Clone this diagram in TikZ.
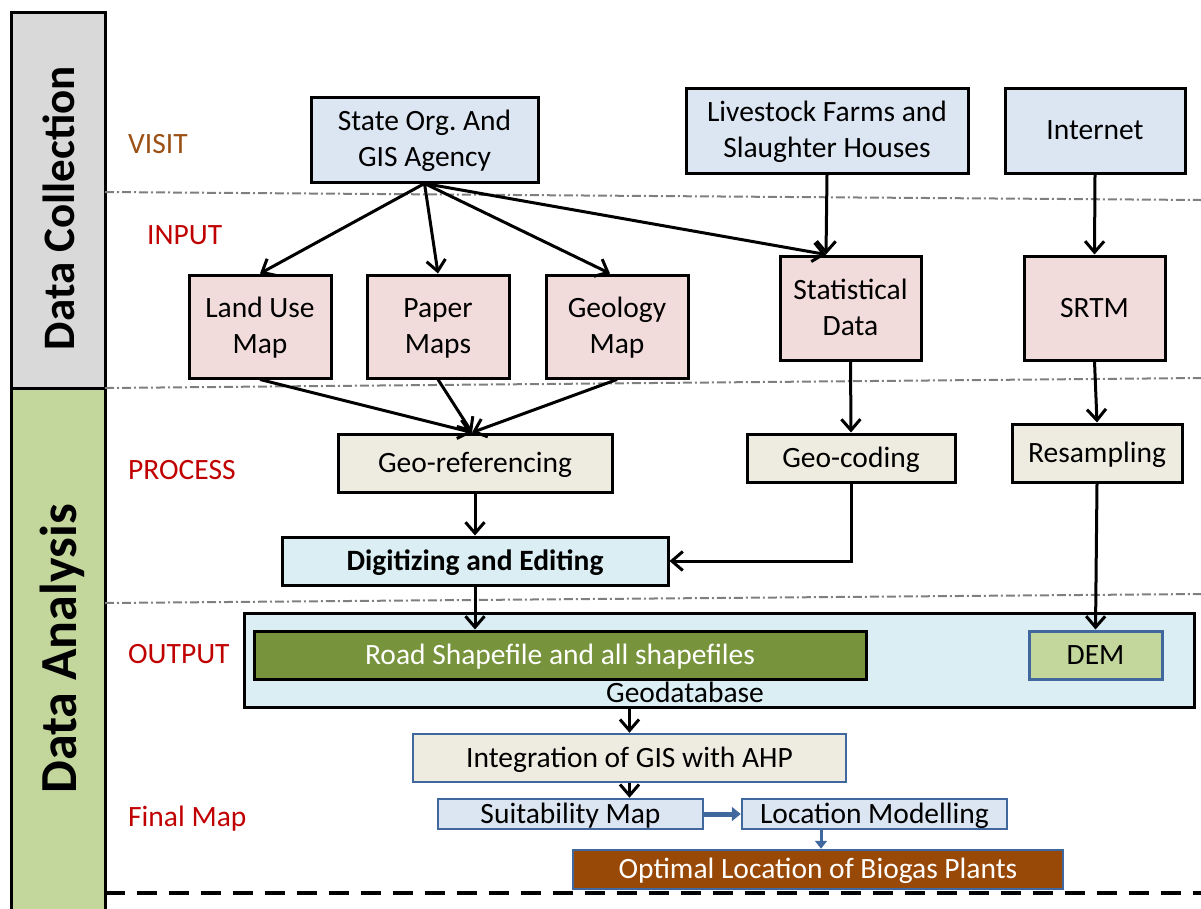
\documentclass[tikz,border=0pt]{standalone}
\usepackage{fontspec}
\setmainfont{Carlito}
\frenchspacing
\usetikzlibrary{arrows.meta}
\definecolor{cgray}{HTML}{D9D9D9}
\definecolor{cgreen}{HTML}{C3D69B}
\definecolor{cbrown}{HTML}{9B5014}
\definecolor{cred}{HTML}{C00000}
\definecolor{cblue}{HTML}{DCE6F2}
\definecolor{cpink}{HTML}{F2DCDB}
\definecolor{cbeige}{HTML}{EEECE1}
\definecolor{caqua}{HTML}{DAEEF3}
\definecolor{colive}{HTML}{77933C}
\definecolor{cborder}{HTML}{41689E}
\definecolor{cbrownbox}{HTML}{984807}
\definecolor{csep}{HTML}{7F7F7F}
\begin{document}
\begin{tikzpicture}[x=1pt,y=-1pt,
  txt/.style={font=\fontsize{29.5}{36}\selectfont},
  box/.style={txt, draw=black, line width=3pt, inner sep=0pt, align=center, text height=18pt, text depth=-1pt},
  two/.style={text height=54pt, text depth=-1pt},
  bbox/.style={box, draw=cborder, line width=2.5pt},
  bar/.style={draw=black, line width=3pt, inner sep=0pt},
  lab/.style={txt, anchor=base west, text=cred, inner sep=0pt},
  sep/.style={draw=csep, line width=2pt, dash pattern=on 9pt off 3pt on 2pt off 3pt},
  arr/.style={draw=black, line width=3pt, -{Straight Barb[length=11pt,width=19pt]}},
  barr/.style={draw=cborder, line width=3pt, -{Triangle[length=8pt,width=12pt]}}
]
\useasboundingbox (0,0) rectangle (1201,908);
% side bars
\node[bar, fill=cgray, minimum width=94pt, minimum height=376pt] (bar1) at (58,200) {};
\node[bar, fill=cgreen, minimum width=94pt, minimum height=532pt] (bar2) at (58,654) {};
\node[rotate=90, anchor=base, font=\bfseries\fontsize{45}{54}\selectfont] (t1) at (74,208) {Data Collection};
\node[rotate=90, anchor=base, font=\bfseries\fontsize{52}{60}\selectfont] (t2) at (76.5,649) {Data Analysis};
% separators
\coordinate (s1a) at (105,192); \coordinate (s1b) at (1201,200);
\coordinate (s2a) at (105,388); \coordinate (s2b) at (1201,378);
\coordinate (s3a) at (105,603); \coordinate (s3b) at (1201,594);
\coordinate (s4a) at (105,893); \coordinate (s4b) at (1201,893);
\draw[sep] (s1a) -- (s1b);
\draw[sep] (s2a) -- (s2b);
\draw[sep] (s3a) -- (s3b);
\draw[draw=black, line width=4pt, dash pattern=on 20pt off 12pt] (s4a) -- (s4b);
% row labels
\node[lab, text=cbrown] (visit) at (128,153) {VISIT};
\node[lab] (input) at (147,244) {INPUT};
\node[lab] (process) at (128,479) {PROCESS};
\node[lab] (output) at (128,663) {OUTPUT};
\node[lab] (final) at (128,826) {Final Map};
% top row
\node[box, two, fill=cblue, minimum width=227pt, minimum height=85pt] (so) at (424.5,139.5) {State Org. And\\GIS Agency};
\node[box, two, fill=cblue, minimum width=282pt, minimum height=85pt] (lf) at (827,130.5) {Livestock Farms and\\Slaughter Houses};
\node[box, fill=cblue, minimum width=180pt, minimum height=85pt] (inet) at (1095,130.5) {Internet};
% input row
\node[box, two, fill=cpink, minimum width=142pt, minimum height=103pt] (lu) at (260,326.5) {Land Use\\Map};
\node[box, two, fill=cpink, minimum width=142pt, minimum height=103pt] (pm) at (438,326.5) {Paper\\Maps};
\node[box, two, fill=cpink, minimum width=142pt, minimum height=103pt] (gm) at (617,326.5) {Geology\\Map};
\node[box, two, fill=cpink, minimum width=141pt, minimum height=104pt] (sd) at (850.5,308) {Statistical\\Data};
\node[box, fill=cpink, minimum width=141pt, minimum height=104pt] (srtm) at (1094.5,308) {SRTM};
% process row
\node[box, fill=cbeige, minimum width=274pt, minimum height=58pt] (gr) at (475,463) {Geo-referencing};
\node[box, fill=cbeige, minimum width=208pt, minimum height=48pt] (gc) at (851,458) {Geo-coding};
\node[box, fill=cbeige, minimum width=170pt, minimum height=58pt] (rs) at (1097,453) {Resampling};
\node[box, fill=caqua, font=\bfseries\fontsize{29.5}{36}\selectfont, minimum width=386pt, minimum height=48pt] (de) at (475,561) {Digitizing and Editing};
% output
\node[box, fill=caqua, minimum width=950pt, minimum height=94pt] (gdb) at (719,660) {};
\node[box, fill=colive, text=white, minimum width=612pt, minimum height=48pt] (road) at (560,655) {Road Shapefile and all shapefiles};
\node[bbox, fill=cgreen, line width=3pt, minimum width=133pt, minimum height=48pt] (dem) at (1095.5,655) {DEM};
\node[txt, anchor=base, inner sep=0pt] (gdbl) at (685,702) {Geodatabase};
% final
\node[bbox, fill=cbeige, minimum width=433pt, minimum height=48pt] (integ) at (629.5,758) {Integration of GIS with AHP};
\node[bbox, fill=cblue, minimum width=265pt, minimum height=30pt] (suit) at (570.5,814) {Suitability Map};
\node[bbox, fill=cblue, minimum width=265pt, minimum height=30pt] (loc) at (874.5,814) {Location Modelling};
\node[bbox, fill=cbrownbox, text=white, minimum width=490pt, minimum height=39pt] (opt) at (818,869.5) {Optimal Location of Biogas Plants};
% arrows
\coordinate (sdin) at ([xshift=-24.5pt]sd.north);
\draw[arr] (so.south) -- (lu.north);
\draw[arr] (so.south) -- (pm.north);
\draw[arr] (so.south) -- ([xshift=-7pt]gm.north);
\draw[arr] (so.south) -- (sdin);
\draw[arr] (lf.south) -- (sdin);
\draw[arr] (inet.south) -- (srtm.north);
\coordinate (grin) at ([xshift=-3pt]gr.north);
\draw[arr] (lu.south) -- (grin);
\draw[arr] (pm.south) -- (grin);
\draw[arr] (gm.south) -- (grin);
\draw[arr] (gr.south) -- (de.north);
\draw[arr] (sd.south) -- (gc.north);
\draw[arr] (gc.south) |- (de.east);
\draw[arr] (srtm.south) -- (rs.north);
\draw[arr] (rs.south) -- (dem.north);
\draw[arr] (de.south) -- (de.south |- road.north);
\draw[arr] (integ.north |- gdb.south) -- (integ.north);
\draw[arr] (integ.south) -- (integ.south |- suit.north);
\draw[barr, line width=5pt, -{Triangle[length=9pt,width=14pt]}] (suit.east) -- (loc.west);
\coordinate (locout) at ([xshift=-53.5pt]loc.south);
\draw[barr] (locout) -- (locout |- opt.north);
\end{tikzpicture}
\end{document}
